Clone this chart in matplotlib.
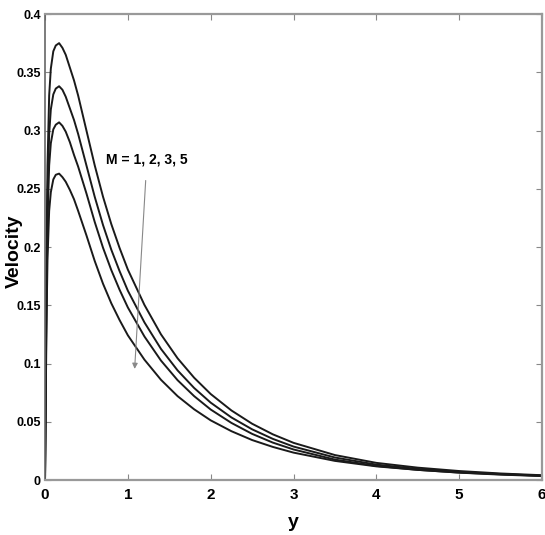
import matplotlib
matplotlib.use("Agg")
import matplotlib.pyplot as plt

# distance y (shared grid for all curves)
y_grid = [0, 0.01, 0.02, 0.03, 0.05, 0.07, 0.1, 0.13, 0.17, 0.21, 0.25, 0.3, 0.35, 0.4,
          0.5, 0.6, 0.7, 0.8, 0.9, 1.0, 1.2, 1.4, 1.6, 1.8, 2.0, 2.25, 2.5, 2.75,
          3.0, 3.5, 4.0, 4.5, 5.0, 5.5, 6.0]

# velocity profiles
vel_M1 = [0, 0.113, 0.206, 0.270, 0.330, 0.353, 0.368, 0.373, 0.375, 0.371, 0.365, 0.354,
          0.343, 0.330, 0.300, 0.2701, 0.2432, 0.2197, 0.1992, 0.1806, 0.1503, 0.1250,
          0.1045, 0.0878, 0.0738, 0.0597, 0.0483, 0.0392, 0.0319, 0.0214, 0.0147,
          0.0106, 0.0077, 0.0056, 0.0041]
vel_M2 = [0, 0.101, 0.186, 0.243, 0.297, 0.318, 0.331, 0.336, 0.338, 0.335, 0.329, 0.319,
          0.309, 0.297, 0.270, 0.2431, 0.2189, 0.1977, 0.1793, 0.1625, 0.1353, 0.1125,
          0.0941, 0.0790, 0.0664, 0.0537, 0.0435, 0.0353, 0.0287, 0.0193, 0.0132,
          0.0095, 0.0069, 0.0051, 0.0037]
vel_M3 = [0, 0.092, 0.169, 0.221, 0.270, 0.289, 0.301, 0.305, 0.307, 0.304, 0.299, 0.290,
          0.279, 0.269, 0.246, 0.2215, 0.1994, 0.1802, 0.1633, 0.1481, 0.1232, 0.1025,
          0.0857, 0.0720, 0.0605, 0.0490, 0.0396, 0.0321, 0.0262, 0.0175, 0.0121,
          0.0087, 0.0063, 0.0046, 0.0034]
vel_M5 = [0, 0.079, 0.145, 0.189, 0.231, 0.247, 0.258, 0.262, 0.263, 0.260, 0.256, 0.249,
          0.241, 0.231, 0.210, 0.188, 0.1685, 0.1517, 0.1373, 0.1242, 0.1033, 0.0860,
          0.0720, 0.0607, 0.0512, 0.0419, 0.0343, 0.0284, 0.0235, 0.0164, 0.0117,
          0.0087, 0.0064, 0.0049, 0.0036]

x_ticks = [0, 1, 2, 3, 4, 5, 6]
x_tick_labels = ["0", "1", "2", "3", "4", "5", "6"]
y_ticks = [0, 0.05, 0.1, 0.15, 0.2, 0.25, 0.3, 0.35, 0.4]
y_tick_labels = ["0", "0.05", "0.1", "0.15", "0.2", "0.25", "0.3", "0.35", "0.4"]

label_text = "M = 1, 2, 3, 5"

plt.rcParams['font.family'] = ['Liberation Sans', 'DejaVu Sans']

fig = plt.figure(figsize=(5.45, 5.35), dpi=100)
ax = fig.add_axes([0.0826, 0.1028, 0.912, 0.871])

for v in (vel_M1, vel_M2, vel_M3, vel_M5):
    ax.plot(y_grid, v, color='#1a1a1a', lw=1.4)

ax.set_xlim(0, 6)
ax.set_ylim(0, 0.4)
ax.set_xticks(x_ticks)
ax.set_xticklabels(x_tick_labels, fontweight='bold', fontsize=11)
ax.set_yticks(y_ticks)
ax.set_yticklabels(y_tick_labels, fontweight='bold', fontsize=9)
ax.tick_params(direction='in', length=4, width=0.8, color='#888888',
               top=True, right=True)
ax.tick_params(axis='x', pad=6)
ax.tick_params(axis='y', pad=3)

for side in ('top', 'bottom', 'right'):
    ax.spines[side].set_color('#999999')
    ax.spines[side].set_linewidth(1.6)
ax.spines['left'].set_color('#666666')
ax.spines['left'].set_linewidth(1.2)

ax.set_xlabel("y", fontweight='bold', fontsize=14)
ax.xaxis.set_label_coords(0.5, -0.072)
ax.set_ylabel("Velocity", fontweight='bold', fontsize=14)
ax.yaxis.set_label_coords(-0.045, 0.49)

ax.annotate(label_text, xy=(1.08, 0.093), xytext=(1.23, 0.275),
            ha='center', va='center', fontsize=10, fontweight='bold',
            arrowprops=dict(arrowstyle='-|>', color='#888888', lw=0.8,
                            mutation_scale=8, shrinkA=8))

fig.savefig("out.png", dpi=100)
